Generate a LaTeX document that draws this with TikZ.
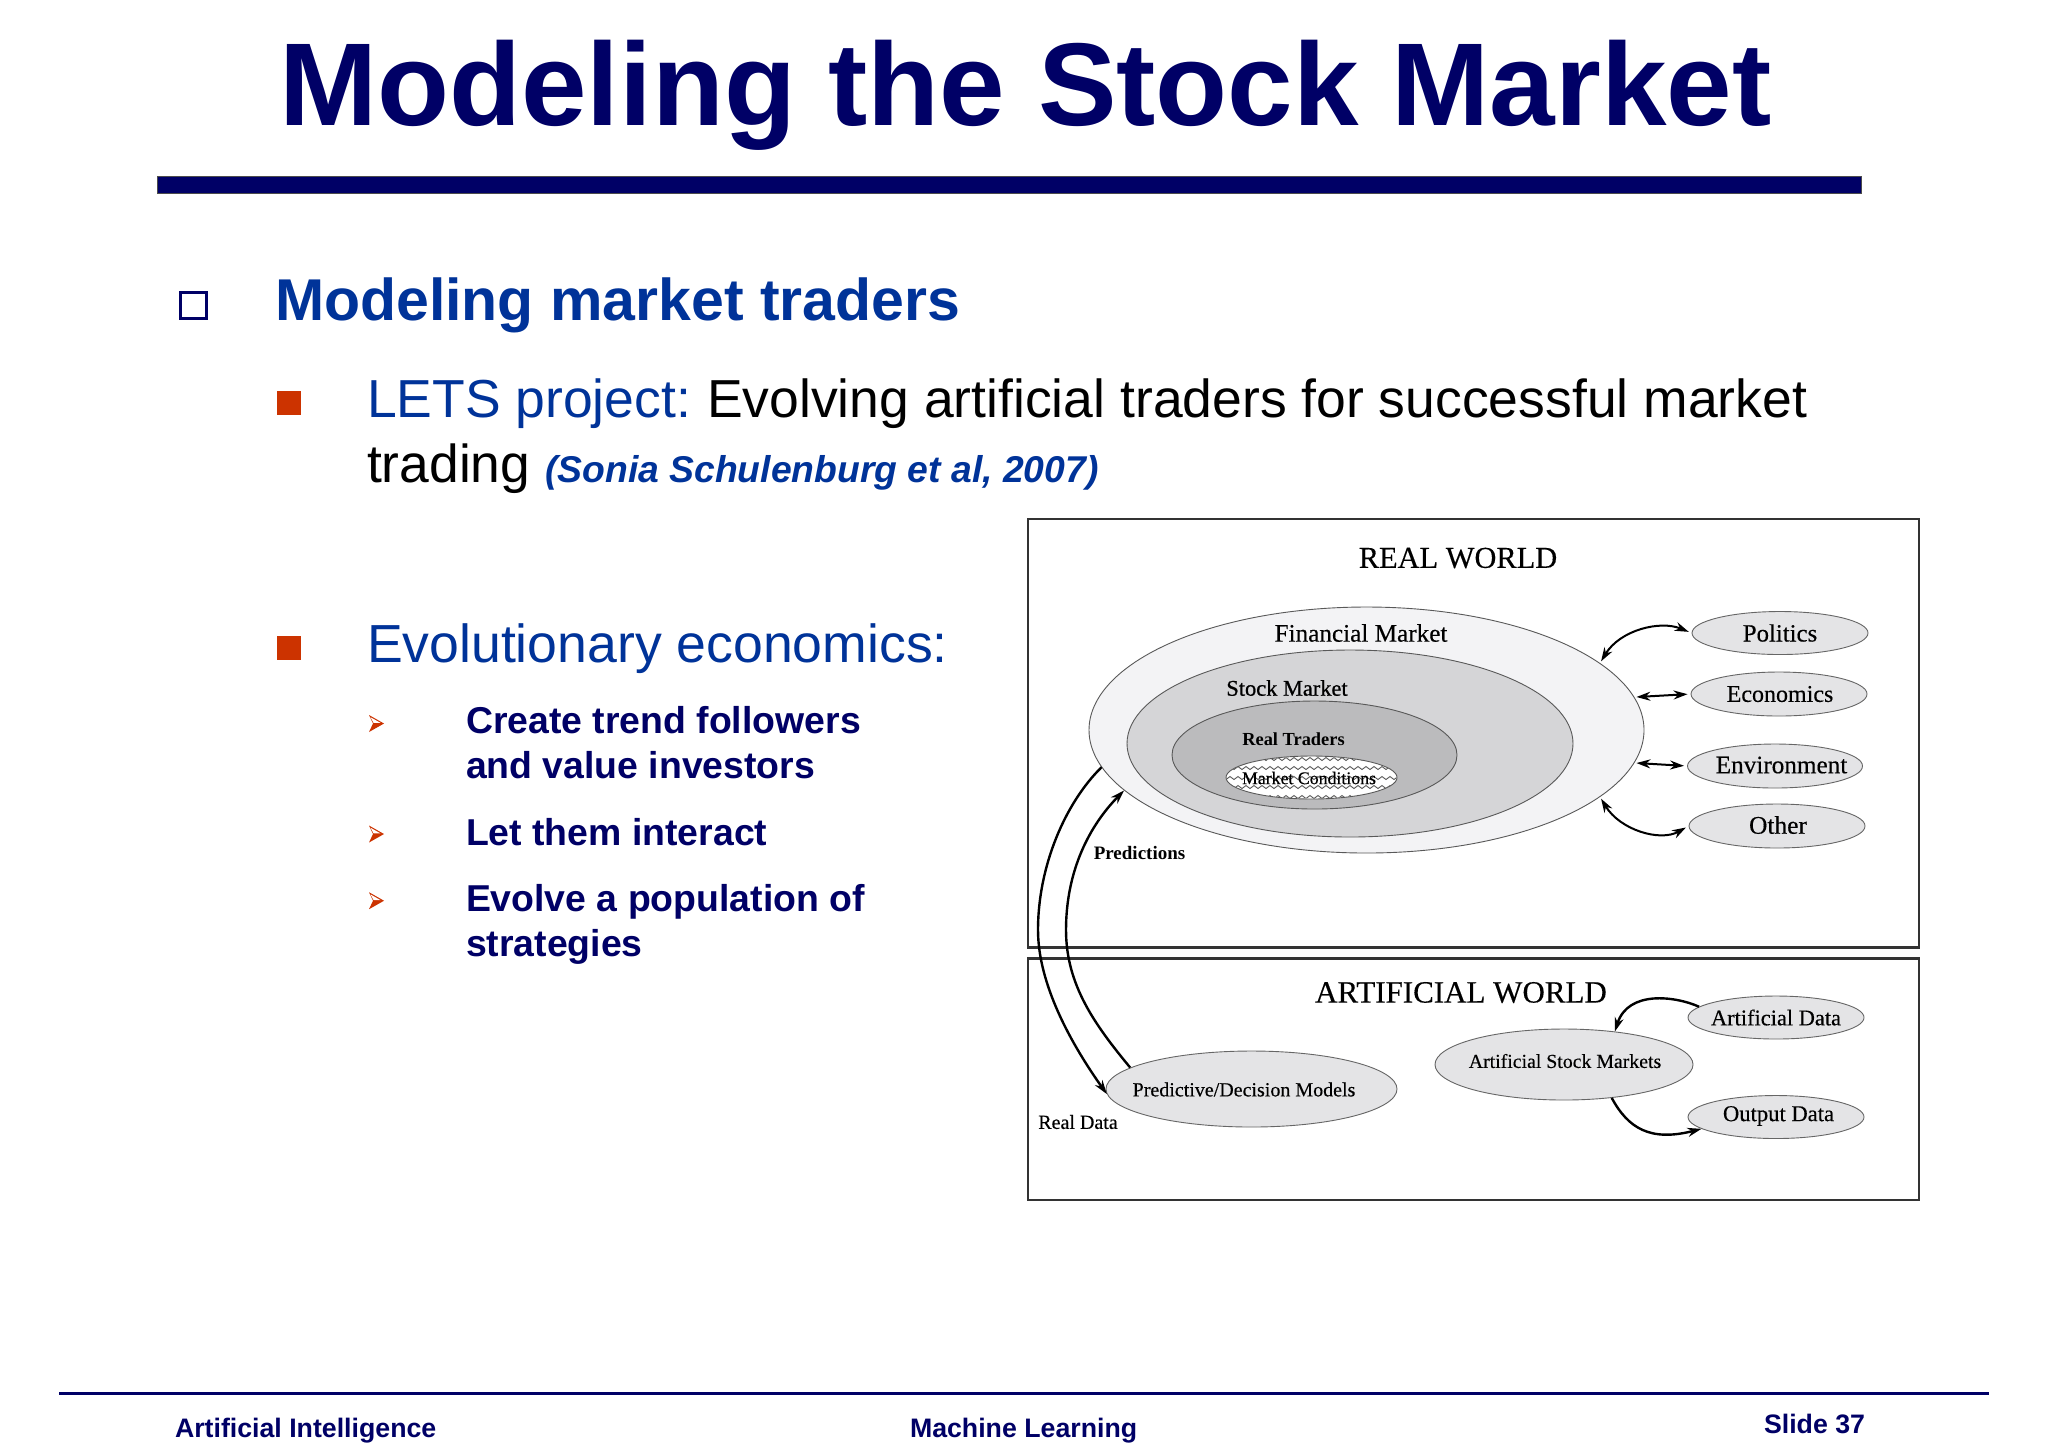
\documentclass[tikz,border=0pt]{standalone}
\usepackage{fontspec}
\setmainfont{Liberation Sans}
\newfontfamily\seriffont{Liberation Serif}
\newfontfamily\labfont[FakeBold=0.35]{Liberation Serif}
\newfontfamily\labheavy[FakeBold=0.8]{Liberation Serif}
\usetikzlibrary{shapes.geometric,arrows.meta,decorations.pathmorphing}
\definecolor{navy}{HTML}{000066}
\definecolor{royal}{HTML}{003399}
\definecolor{rust}{HTML}{CC3300}
\definecolor{bubble}{HTML}{E4E4E6}
\definecolor{finfill}{HTML}{F3F3F5}
\definecolor{stkfill}{HTML}{D5D5D7}
\definecolor{trdfill}{HTML}{BBBBBD}
\newcommand{\fs}[1]{\fontsize{#1}{#1}\selectfont}
\tikzset{
  x=0.5pt,y=-0.5pt,
  txt/.style={anchor=base west,inner sep=0pt,outer sep=0pt},
  lab/.style={anchor=center,inner sep=0pt,text=black},
  bub/.style={ellipse,draw=black!60,line width=0.45pt,fill=bubble,inner sep=0pt},
  nest/.style={ellipse,draw=black!65,line width=0.45pt,inner sep=0pt},
  frm/.style={draw=black!80,line width=1.2pt,fill=none},
  conn/.style={line width=1pt,black,{Stealth[length=7pt,width=4.5pt]}-{Stealth[length=7pt,width=4.5pt]},shorten >=1.5pt,shorten <=1pt},
  oneway/.style={line width=1.2pt,black,-{Stealth[length=7pt,width=4.5pt]}},
  redb/.style={draw=none,fill=rust,minimum size=12pt,inner sep=0pt},
  wave/.style={draw=black!65,line width=0.45pt,decorate,decoration={zigzag,segment length=4pt,amplitude=0.75pt}},
}
\begin{document}
\begin{tikzpicture}
\useasboundingbox (0,0) rectangle (2048,1448);
\fill[white] (0,0) rectangle (2048,1448);
% title
\node[txt,font=\fs{58.9}\bfseries,text=navy] (title) at (279,125) {Modeling the Stock Market};
\fill[navy,draw=black!70,line width=0.5pt] (157,176) rectangle (1861,193);
% bullets
\node[draw=navy,line width=1.5pt,fill=white,minimum size=13pt,inner sep=0pt] (b0) at (193.5,305) {};
\node[txt,font=\fs{29.5}\bfseries,text=royal] (h1) at (275,320) {Modeling market traders};
\node[redb] (b1) at (289,403) {};
\node[txt,font=\fs{26.75}] (l1) at (367,417) {\textcolor{royal}{LETS project:}\hspace{-1.9pt} Evolving artificial traders for successful market};
\node[txt,font=\fs{26.7}] (l2) at (367,482) {trading \textcolor{royal}{\fs{18.65}\bfseries\itshape (Sonia Schulenburg et al, 2007)}};
\node[redb] (b2) at (289,647.5) {};
\node[txt,font=\fs{26.8},text=royal] (l3) at (367,662) {Evolutionary economics:};
\foreach \yy in {723.5,834,900.7}{
  \fill[rust] (369,\yy-8.5) -- (384,\yy) -- (369,\yy+8.5) -- (373,\yy) -- cycle;
  \fill[white] (370.5,\yy-6.3) -- (380.5,\yy-0.6) -- (373.6,\yy-0.6) -- cycle;
}
\node[txt,font=\fs{18.7}\bfseries,text=navy] (s1) at (466,733) {Create trend followers};
\node[txt,font=\fs{18.7}\bfseries,text=navy] (s2) at (466,778) {and value investors};
\node[txt,font=\fs{18.7}\bfseries,text=navy] (s3) at (466,845) {Let them interact};
\node[txt,font=\fs{18.7}\bfseries,text=navy] (s4) at (466,911) {Evolve a population of};
\node[txt,font=\fs{18.7}\bfseries,text=navy] (s5) at (466,956) {strategies};
% frames
\draw[frm] (1028,519) rectangle (1919,947.5);
\draw[frm] (1028,958.5) rectangle (1919,1200);
\node[lab,font=\labfont\fs{15.2}] (rw) at (1458,558) {REAL WORLD};
\node[lab,font=\labfont\fs{15.5}] (aw) at (1461,992.5) {ARTIFICIAL WORLD};
% nested ellipses
\node[nest,fill=finfill,minimum width=277.5pt,minimum height=123pt] (fin) at (1366.5,730) {};
\node[nest,fill=stkfill,minimum width=223pt,minimum height=93.5pt] (stk) at (1350,743.5) {};
\node[nest,fill=trdfill,minimum width=142.5pt,minimum height=54pt] (trd) at (1314.5,755) {};
\node[nest,fill=white,minimum width=85.5pt,minimum height=21.5pt] (mc) at (1311.5,777.5) {};
\begin{scope}
  \clip (1311.5,777.5) ellipse [x radius=85,y radius=21];
  \foreach \yy in {759,768,778,787,797}{
    \draw[wave] (1220,\yy) -- (1404,\yy);
  }
\end{scope}
\node[lab,font=\labfont\fs{12.6}] (finl) at (1361,633) {Financial Market};
\node[lab,font=\labheavy\fs{11.2}] (stkl) at (1287,688) {Stock Market};
\node[lab,font=\seriffont\fs{9.2}\bfseries] (trdl) at (1293.5,739) {Real Traders};
\node[lab,font=\labfont\fs{8.9}] (mcl) at (1309,778) {Market Conditions};
% outside bubbles
\node[bub,minimum width=88pt,minimum height=21.5pt] (pol) at (1780,633) {};
\node[lab,font=\labfont\fs{12.4}] at (pol) {Politics};
\node[bub,minimum width=88pt,minimum height=22pt] (eco) at (1779,694) {};
\node[lab,font=\labfont\fs{12}] at (1780,694) {Economics};
\node[bub,minimum width=87.5pt,minimum height=22pt] (env) at (1775,766) {};
\node[lab,font=\labfont\fs{12.6}] at (1781.5,765) {Environment};
\node[bub,minimum width=88pt,minimum height=22pt] (oth) at (1777,826) {};
\node[lab,font=\labfont\fs{12.7}] at (1778,825) {Other};
\node[bub,minimum width=88pt,minimum height=21.5pt] (ad) at (1776,1017.5) {};
\node[lab,font=\labfont\fs{11.2}] at (ad) {Artificial Data};
\node[bub,minimum width=88pt,minimum height=21.5pt] (od) at (1776,1117) {};
\node[lab,font=\labfont\fs{11.3}] at (1778.5,1116) {Output Data};
\node[bub,minimum width=129pt,minimum height=35.5pt] (asm) at (1564,1064.5) {};
\node[lab,font=\labfont\fs{9.9}] at (1565,1061) {Artificial Stock Markets};
\node[bub,minimum width=145.5pt,minimum height=38pt] (pdm) at (1251.5,1089) {};
\node[lab,font=\labfont\fs{10}] at (1244,1089.5) {Predictive/Decision Models};
\node[lab,font=\seriffont\fs{9.5}\bfseries] (pred) at (1139.5,853) {Predictions};
\node[lab,font=\labfont\fs{10}] (real) at (1078,1122) {Real Data};
% connectors
\draw[conn] (fin.16.7) .. controls (1620,630) and (1660,620) .. (pol.west);
\draw[conn] (fin.7.65) -- (eco.west);
\draw[conn] (fin.-7.65) -- (env.west);
\draw[conn] (fin.-16.7) .. controls (1620,830) and (1660,842) .. (oth.west);
\draw[oneway] (fin.188.2) .. controls (1066,802) and (1038,865) .. (1038,930)
   .. controls (1038,985) and (1072,1045) .. (pdm.182);
\draw[oneway] (pdm.170) .. controls (1095,1025) and (1066,985) .. (1066,930)
   .. controls (1066,870) and (1090,825) .. (fin.194.4);
\draw[oneway] (ad.172) .. controls (1675,996) and (1628,990) .. (asm.33);
\draw[oneway] (asm.-35) .. controls (1628,1128) and (1650,1142) .. (od.189);
% footer
\draw[navy,line width=1.5pt] (59,1393) -- (1989,1393);
\node[txt,font=\fs{13.36}\bfseries,text=navy] (fa) at (175,1437) {Artificial Intelligence};
\node[txt,font=\fs{13.36}\bfseries,text=navy] (fb) at (910,1437) {Machine Learning};
\node[txt,font=\fs{13.36}\bfseries,text=navy] (fc) at (1764,1433) {Slide 37};
\end{tikzpicture}
\end{document}
